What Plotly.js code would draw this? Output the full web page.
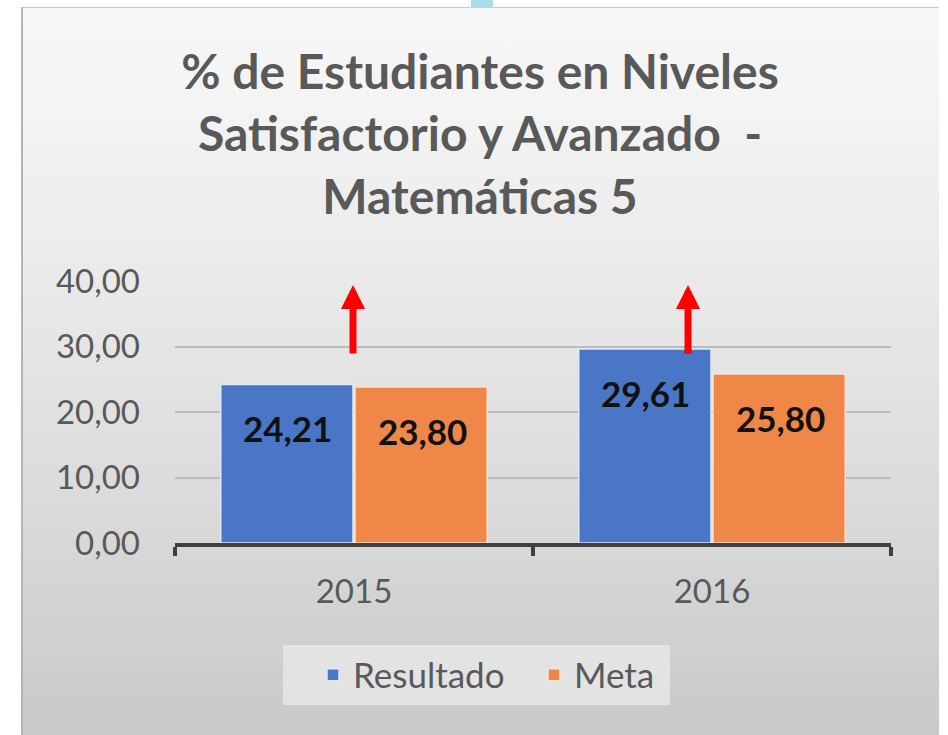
<!DOCTYPE html>
<html>
<head>
<meta charset="utf-8">
<script src="https://cdn.plot.ly/plotly-3.0.1.min.js"></script>
<style>
  html, body { margin:0; padding:0; background:#ffffff; }
  #wrap { position:relative; width:948px; height:735px; overflow:hidden; }
  #panel { position:absolute; left:21px; top:7px; width:918px; height:740px;
    background: linear-gradient(to bottom, #f7f7f7 0%, #f3f3f3 15%, #e6e6e6 45%, #d9d9d9 70%, #c8c8c8 100%);
    border-left:2px solid #b4b4b4; border-top:1px solid #c8c8c8; box-sizing:border-box; }
  #mark { position:absolute; left:471px; top:0px; width:22px; height:8px; background:#a9dde6; }
  #chart { position:absolute; left:0; top:0; width:948px; height:735px; }
</style>
</head>
<body>
<div id="wrap">
  <div id="panel"></div>
  <div id="mark"></div>
  <div id="chart"></div>
</div>
<script>
const categories = ['2015', '2016'];
const resultado = [24.21, 29.61];
const meta = [23.80, 25.80];
const seriesNames = ['Resultado', 'Meta'];
const yTicks = [0, 10, 20, 30, 40];
const yTickLabels = ['0,00', '10,00', '20,00', '30,00', '40,00'];
const titleText = '% de Estudiantes en Niveles<br>Satisfactorio y Avanzado  -<br>Matemáticas 5';

const fontFam = 'Lato, "Open Sans", sans-serif';
const fmt = v => v.toFixed(2).replace('.', ',');

const traces = [
  { type:'bar', name:seriesNames[0], x:categories, y:resultado, legend:'legend',
    marker:{ color:'#4a76c6', line:{ color:'#dfe8f5', width:1.5 } }, hoverinfo:'x+y' },
  { type:'bar', name:seriesNames[1], x:categories, y:meta, legend:'legend2',
    marker:{ color:'#ee8748', line:{ color:'#f8e4d6', width:1.5 } }, hoverinfo:'x+y' }
];

const annotations = [];
categories.forEach((c, i) => {
  annotations.push({ x:i, y:resultado[i], xref:'x', yref:'y', text:fmt(resultado[i]),
    showarrow:false, xshift:-67, yshift:-44, font:{ family:fontFam, size:35, color:'#111111', weight:'bold' } });
  annotations.push({ x:i, y:meta[i], xref:'x', yref:'y', text:fmt(meta[i]),
    showarrow:false, xshift:68, yshift:-44, font:{ family:fontFam, size:35, color:'#111111', weight:'bold' } });
});
// red upward arrows
[0.2486, 0.7165].forEach(px => {
  annotations.push({ x:px, y:0.985, xref:'paper', yref:'paper', text:'', showarrow:true,
    ax:0, ay:70, arrowhead:2, arrowsize:0.69, arrowwidth:7, arrowcolor:'#ff0000', standoff:0 });
});

const legendFont = { family:fontFam, size:35, color:'#595959' };

const layout = {
  width:948, height:735,
  margin:{ l:175, r:57, t:281, b:192 },
  paper_bgcolor:'rgba(0,0,0,0)', plot_bgcolor:'rgba(0,0,0,0)',
  separators:',.',
  title:{ text:titleText, x:480/948, xanchor:'center', y:1-89/735, yanchor:'middle',
    font:{ family:fontFam, size:48, color:'#595959', weight:'bold' } },
  barmode:'group', bargap:0.25, bargroupgap:0.015,
  showlegend:true,
  legend:{ orientation:'h', x:0.1927, xanchor:'left', y:-0.504, yanchor:'middle',
    bgcolor:'rgba(0,0,0,0)', font:legendFont, itemwidth:30 },
  legend2:{ orientation:'h', x:0.5014, xanchor:'left', y:-0.504, yanchor:'middle',
    bgcolor:'rgba(0,0,0,0)', font:legendFont, itemwidth:30 },
  shapes:[{ type:'rect', xref:'paper', yref:'paper', x0:0.1508, x1:0.6913, y0:-0.618, y1:-0.389,
    fillcolor:'#e3e3e3', line:{ width:0 }, layer:'below' }],
  xaxis:{ type:'category', range:[-0.5, 1.5], autorange:false, showline:true, linecolor:'#404040', linewidth:4,
    ticks:'outside', tickson:'boundaries', ticklen:9, tickwidth:4, tickcolor:'#404040',
    tickfont:{ family:fontFam, size:33, color:'#595959' }, ticklabelstandoff:16, tickangle:0,
    showgrid:false, zeroline:false },
  yaxis:{ range:[0, 40], autorange:false, tickvals:yTicks, ticktext:yTickLabels, showline:false,
    gridcolor:'#bcbcbc', gridwidth:2, zeroline:false, ticks:'',
    tickfont:{ family:fontFam, size:33, color:'#595959' }, ticklabelstandoff:34 },
  annotations:annotations
};

Plotly.newPlot('chart', traces, layout, { displayModeBar:false, staticPlot:true });
</script>
</body>
</html>
